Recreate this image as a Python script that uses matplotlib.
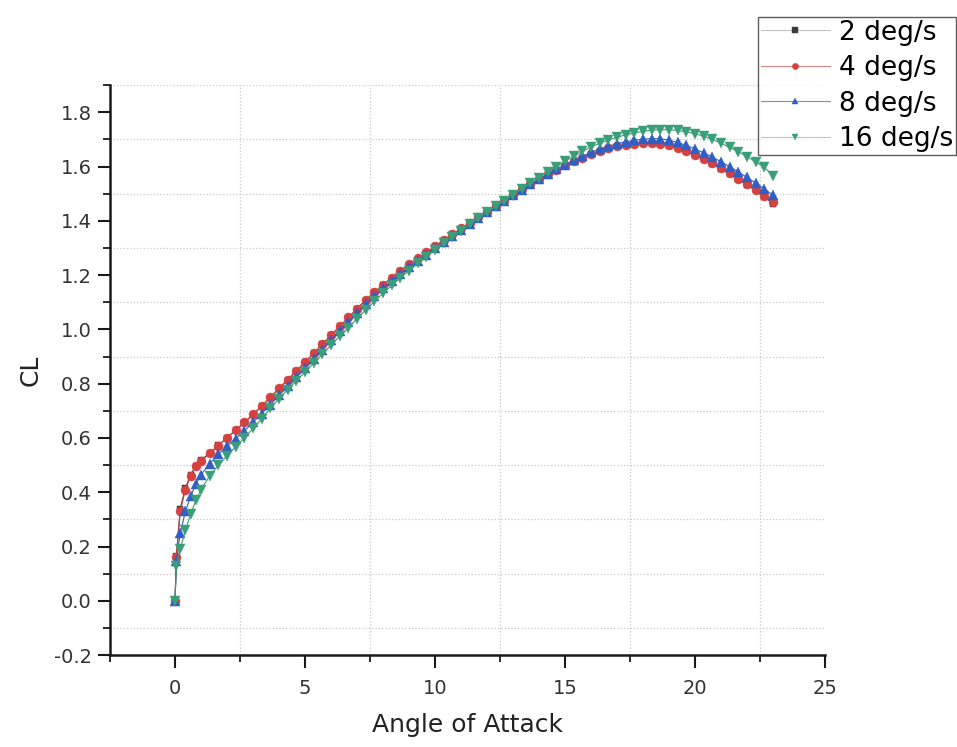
import matplotlib
matplotlib.use("Agg")
import matplotlib.pyplot as plt
from matplotlib.ticker import MultipleLocator, FormatStrFormatter

plt.rcParams['font.family'] = ['DejaVu Sans']

# angle of attack samples (deg), shared by all pitch rates
aoa = [0, 0.05, 0.2, 0.4, 0.6, 0.8, 1.0, 1.33, 1.67, 2.0, 2.33, 2.67, 3.0,
       3.33, 3.67, 4.0, 4.33, 4.67, 5.0, 5.33, 5.67, 6.0, 6.33, 6.67, 7.0,
       7.33, 7.67, 8.0, 8.33, 8.67, 9.0, 9.33, 9.67, 10.0, 10.33, 10.67, 11.0,
       11.33, 11.67, 12.0, 12.33, 12.67, 13.0, 13.33, 13.67, 14.0, 14.33, 14.67,
       15.0, 15.33, 15.67, 16.0, 16.33, 16.67, 17.0, 17.33, 17.67, 18.0, 18.33,
       18.67, 19.0, 19.33, 19.67, 20.0, 20.33, 20.67, 21.0, 21.33, 21.67, 22.0,
       22.33, 22.67, 23.0]

cl_2 = [0.0, 0.165, 0.34, 0.415, 0.465, 0.498, 0.518, 0.545, 0.573, 0.601,
        0.629, 0.657, 0.686, 0.717, 0.749, 0.782, 0.814, 0.847, 0.879, 0.912,
        0.945, 0.978, 1.011, 1.043, 1.076, 1.107, 1.137, 1.164, 1.19, 1.215,
        1.239, 1.261, 1.283, 1.306, 1.328, 1.35, 1.371, 1.392, 1.413, 1.433,
        1.453, 1.473, 1.496, 1.515, 1.534, 1.552, 1.57, 1.587, 1.603, 1.618,
        1.632, 1.645, 1.656, 1.666, 1.674, 1.68, 1.684, 1.686, 1.686, 1.683,
        1.677, 1.668, 1.656, 1.642, 1.627, 1.61, 1.592, 1.573, 1.553, 1.533,
        1.512, 1.489, 1.463]

cl_4 = [0.0, 0.16, 0.33, 0.41, 0.46, 0.495, 0.515, 0.543, 0.572, 0.601,
        0.629, 0.658, 0.687, 0.718, 0.75, 0.783, 0.815, 0.848, 0.88, 0.913,
        0.946, 0.979, 1.012, 1.044, 1.077, 1.108, 1.138, 1.165, 1.19, 1.216,
        1.24, 1.262, 1.284, 1.307, 1.329, 1.351, 1.372, 1.393, 1.414, 1.434,
        1.454, 1.474, 1.497, 1.516, 1.535, 1.553, 1.571, 1.588, 1.604, 1.619,
        1.633, 1.646, 1.657, 1.667, 1.675, 1.681, 1.685, 1.687, 1.687, 1.685,
        1.679, 1.67, 1.658, 1.644, 1.629, 1.612, 1.594, 1.575, 1.556, 1.536,
        1.515, 1.493, 1.468]

cl_8 = [0.0, 0.145, 0.25, 0.33, 0.385, 0.43, 0.465, 0.505, 0.54, 0.57, 0.598,
        0.627, 0.658, 0.69, 0.723, 0.757, 0.79, 0.824, 0.858, 0.892, 0.926,
        0.96, 0.994, 1.027, 1.06, 1.092, 1.123, 1.152, 1.179, 1.205, 1.23,
        1.253, 1.276, 1.3, 1.323, 1.346, 1.368, 1.39, 1.411, 1.432, 1.453,
        1.474, 1.494, 1.514, 1.534, 1.553, 1.572, 1.59, 1.607, 1.623, 1.638,
        1.652, 1.664, 1.675, 1.684, 1.691, 1.697, 1.701, 1.703, 1.703, 1.697,
        1.689, 1.678, 1.665, 1.651, 1.635, 1.618, 1.6, 1.58, 1.56, 1.54, 1.518,
        1.494]

cl_16 = [0.0, 0.13, 0.19, 0.26, 0.32, 0.37, 0.41, 0.46, 0.50, 0.535, 0.567,
         0.60, 0.635, 0.67, 0.71, 0.745, 0.778, 0.811, 0.843, 0.876, 0.909,
         0.942, 0.975, 1.007, 1.04, 1.072, 1.103, 1.133, 1.162, 1.19, 1.217,
         1.243, 1.268, 1.293, 1.317, 1.341, 1.364, 1.387, 1.41, 1.432, 1.454,
         1.475, 1.496, 1.517, 1.538, 1.558, 1.579, 1.60, 1.62, 1.638, 1.656,
         1.672, 1.686, 1.698, 1.708, 1.717, 1.724, 1.73, 1.734, 1.736, 1.736,
         1.733, 1.728, 1.721, 1.712, 1.70, 1.686, 1.671, 1.655, 1.637, 1.618,
         1.597, 1.567]

names = ["2 deg/s", "4 deg/s", "8 deg/s", "16 deg/s"]
colors = ["#3a3a3a", "#d8403f", "#2f5fc4", "#3a9e78"]
legend_line_colors = ["#c4c4c4", "#d98a8a", "#7d8fb0", "#a9d3be"]
markers = ["s", "o", "^", "v"]
msizes = [5.0, 6.5, 6.5, 6.5]
curves = [cl_2, cl_4, cl_8, cl_16]

fig = plt.figure(figsize=(9.57, 7.47), dpi=100)
ax = fig.add_axes([0.115, 0.123, 0.747, 0.763])

handles = []
for name, vals, col, mk, ms in zip(names, curves, colors, markers, msizes):
    h, = ax.plot(aoa, vals, color=col, marker=mk, markersize=ms,
                 linewidth=0.8, markeredgewidth=0.3, label=name)
    handles.append(h)

ax.set_xlim(-2.5, 25)
ax.set_ylim(-0.2, 1.9)
ax.xaxis.set_major_locator(MultipleLocator(5))
ax.xaxis.set_minor_locator(MultipleLocator(2.5))
ax.yaxis.set_major_locator(MultipleLocator(0.2))
ax.yaxis.set_minor_locator(MultipleLocator(0.1))
ax.yaxis.set_major_formatter(FormatStrFormatter('%.1f'))

ax.grid(which='minor', linestyle=':', color='#c8c8c8', linewidth=0.9)
ax.set_axisbelow(True)

for s in ['top', 'right']:
    ax.spines[s].set_visible(False)
for s in ['left', 'bottom']:
    ax.spines[s].set_linewidth(1.8)
    ax.spines[s].set_color('#1a1a1a')

ax.tick_params(which='major', direction='out', length=9, width=1.5,
               labelsize=14, colors='#1a1a1a', labelcolor='#333333')
ax.tick_params(which='minor', direction='out', length=5, width=1.3,
               colors='#1a1a1a')
ax.tick_params(axis='x', which='major', pad=8)
ax.tick_params(axis='y', which='major', pad=4)

ax.set_xlabel("Angle of Attack", fontsize=18, labelpad=11, color='#222222')
ax.set_ylabel("CL", fontsize=18, labelpad=8, color='#222222')

leg = fig.legend(handles=handles, loc='lower left',
                 bbox_to_anchor=(0.792, 0.792), fontsize=19,
                 frameon=True, fancybox=False, handlelength=2.6,
                 labelspacing=0.36, borderpad=0.12, handletextpad=0.35,
                 borderaxespad=0)
leg.get_frame().set_edgecolor('#333333')
leg.get_frame().set_linewidth(1.0)
for lh, lc, col in zip(leg.get_lines(), legend_line_colors, colors):
    lh.set_color(lc)
    lh.set_markerfacecolor(col)
    lh.set_markeredgecolor(col)
    lh.set_markersize(4.5)

fig.savefig("out.png", dpi=100)
